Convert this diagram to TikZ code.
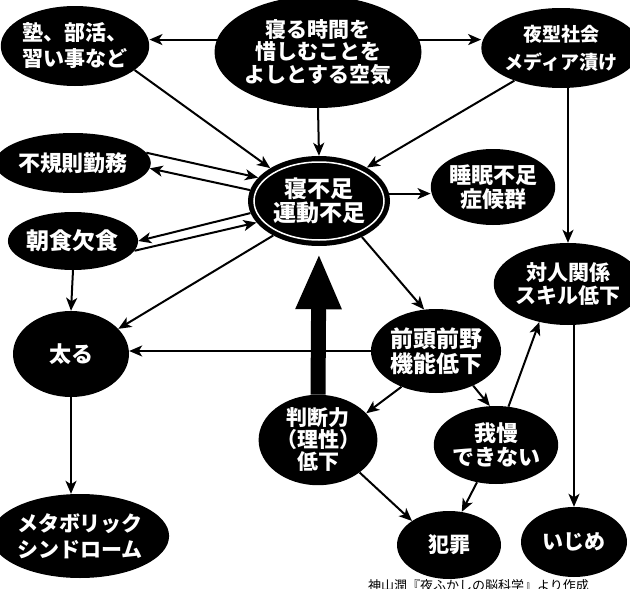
\documentclass[tikz,border=0pt]{standalone}
\usepackage{fontspec}
\newfontfamily\jp{Noto Sans CJK JP}
\usetikzlibrary{shapes.geometric,arrows.meta,calc}
\begin{document}
\begin{tikzpicture}[x=1pt,y=-1pt,
  bub/.style={ellipse,fill=black,draw=none,inner sep=0pt,text=white,align=center,
    font=\jp\bfseries\fontsize{22}{24}\selectfont},
  fs/.style 2 args={font=\jp\bfseries\fontsize{#1}{#2}\selectfont},
  sz/.style 2 args={minimum width=#1pt,minimum height=#2pt},
  arr/.style={line width=2pt,-{Stealth[length=13pt,width=11pt,inset=3.5pt]}},
  bigarr/.style={line width=15pt,-{Triangle[length=56pt,width=42pt]}},
  captext/.style={font=\jp\fontsize{13}{15}\selectfont,text=black,inner sep=0pt}]
\clip (0,0) rectangle (630,589);
\fill[white] (0,0) rectangle (630,589);

% nodes
\node[bub,sz={184}{112},fs={21}{22.5}] (top) at (318,52) {寝る時間を\\惜しむことを\\よしとする空気};
\node[bub,sz={130}{80},fs={21}{26}] (juku) at (75,46) {塾、部活、\\習い事など};
\node[bub,sz={132}{80},fs={19}{28}] (tr) at (561,48) {夜型社会\\メディア漬け};
\node[bub,sz={126}{60}] (fuki) at (73,163) {不規則勤務};
\node[bub,sz={126}{58},fs={23}{24}] (chou) at (73,241) {朝食欠食};
\node[bub,sz={142}{90},fs={23}{24}] (cen) at (319,201) {寝不足\\運動不足};
\draw[white,line width=1.5pt] (cen.center) ellipse [x radius=65, y radius=39];
\node[bub,sz={120}{76}] (suimin) at (493,187) {睡眠不足\\症候群};
\node[bub,sz={116}{86}] (futoru) at (71,354) {太る};
\node[bub,sz={118}{82},fs={21}{23}] (taijin) at (568,284) {対人関係\\スキル低下};
\node[bub,sz={116}{84},fs={23}{25}] (zentou) at (436,351) {前頭前野\\機能低下};
\node[bub,sz={114}{90},fs={21}{22}] (handan) at (318,440) {判断力\\（理性）\\低下};
\node[bub,sz={116}{78}] (gaman) at (496,445) {我慢\\できない};
\node[bub,sz={104}{68},fs={21}{24}] (hanzai) at (449,545) {犯罪};
\node[bub,sz={106}{70},fs={21}{24}] (ijime) at (574,542) {いじめ};
\node[bub,sz={156}{84},fs={21}{26}] (metabo) at (80,536) {メタボリック\\シンドローム};
\node[captext,anchor=north west] (caption) at (368,579) {神山潤『夜ふかしの脳科学』より作成};

% connectors
\draw[arr] (top.173) -- (top.173 -| juku.east);
\draw[arr] (top.7) -- (top.7 -| tr.west);
\draw[arr] (top.south) -- (cen.north);
\draw[arr] (juku.-22) -- (cen.146);
\draw[arr] (tr.215) -- (cen.35);
\draw[arr] (fuki.8) -- (cen.159);
\draw[arr] (cen.171) -- (fuki.-4);
\draw[arr] (cen.190) -- (chou.0);
\draw[arr] (chou.-9) -- (cen.199);
\draw[arr] (cen.6) -- (cen.6 -| suimin.west);
\draw[arr] (cen.217) -- (futoru.28);
\draw[arr] (chou.south) -- (futoru.north);
\draw[arr] (zentou.west) -- (zentou.west -| futoru.east);
\draw[arr] (cen.-40) -- (zentou.106);
\draw[arr] (zentou.226) -- (handan.29);
\draw[arr] (zentou.-43) -- (gaman.99);
\draw[arr] (gaman.72) -- (taijin.233);
\draw[arr] (tr.south -| taijin.north) -- (taijin.north);
\draw[arr] (taijin.south -| ijime.north) -- (ijime.north);
\draw[arr] (handan.-38) -- (hanzai.147);
\draw[arr] (gaman.243) -- (hanzai.69);
\draw[arr] (futoru.south) -- (futoru.south |- metabo.north);
\draw[bigarr,shorten >=7pt] (handan.north) -- (cen.south);
\end{tikzpicture}
\end{document}
